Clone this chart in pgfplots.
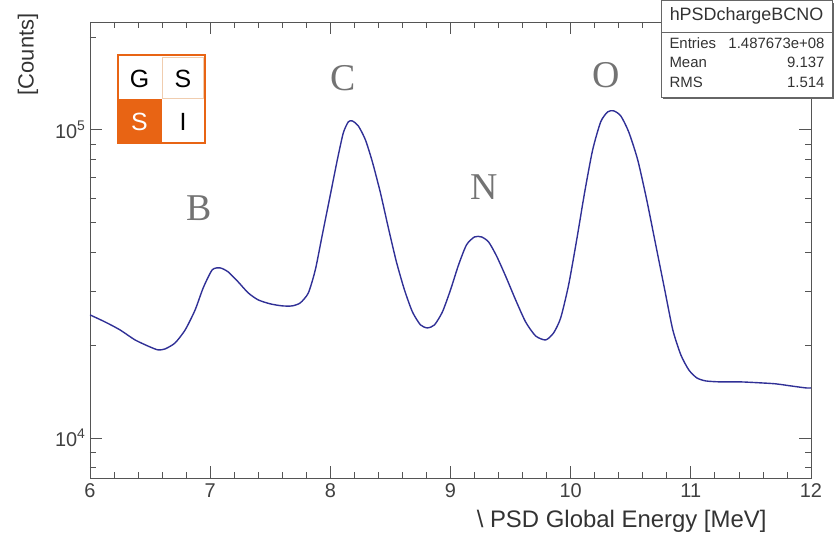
\documentclass[border=0pt]{standalone}
\usepackage{fontspec}
\setmainfont{Liberation Sans}
\newfontfamily\serifB{Liberation Serif}
\usepackage{pgfplots}
\pgfplotsset{compat=1.18}
\definecolor{curve}{RGB}{48,48,150}
\definecolor{gsio}{RGB}{232,100,20}
\definecolor{gsil}{RGB}{240,205,175}
\definecolor{lblgray}{RGB}{115,115,115}
\definecolor{axgray}{RGB}{85,85,85}
\begin{document}
\begin{tikzpicture}
\useasboundingbox (-90bp,-61bp) rectangle (746bp,478bp);
\begin{axis}[
  scale only axis, width=721bp, height=456bp,
  at={(0,0)}, anchor=south west,
  xmin=6, xmax=12, ymode=log, ymin=7413, ymax=224000,
  xtick={6,7,8,9,10,11,12}, xticklabels={6,7,8,9,10,11,12},
  minor x tick num=4,
  ytick={10000,100000}, yticklabels={10\textsuperscript{4},10\textsuperscript{5}},
  minor ytick={8000,9000,20000,30000,40000,50000,60000,70000,80000,90000,200000},
  tick pos=both, xticklabel pos=lower, yticklabel pos=left,
  tick align=inside, major tick length=12bp, minor tick length=6bp,
  axis line style={axgray, line width=0.9pt},
  every tick/.style={axgray, line width=0.8pt},
  tick label style={font=\fontsize{20}{20}\selectfont, text=black!75},
  xticklabel style={yshift=-2bp},
  yticklabel style={xshift=-1bp},
  xlabel={\textbackslash\ PSD Global Energy [MeV]},
  xlabel style={at={(axis description cs:1,0)}, anchor=north east, xshift=-41bp, yshift=-29bp, font=\fontsize{24}{24}\selectfont, text=black!80},
]
\addplot[curve, line width=1.4pt, smooth, tension=0.4] coordinates {
(6.000,25080) (6.125,23800) (6.250,22420) (6.375,20800) (6.500,19740) (6.567,19310)
(6.625,19450) (6.708,20340) (6.792,22420) (6.875,26040) (6.942,30690) (7.017,35120)
(7.083,35640) (7.150,34590) (7.233,32100) (7.317,29560) (7.400,28060) (7.500,27240)
(7.600,26830) (7.683,26830) (7.750,27440) (7.817,29560) (7.875,35120) (7.933,45610)
(8.000,61520) (8.058,79910) (8.108,97790) (8.150,106200) (8.183,106900) (8.233,103000)
(8.292,92800) (8.350,78720) (8.417,62450) (8.483,48060) (8.550,37280) (8.617,30230)
(8.683,25660) (8.750,23280) (8.808,22760) (8.867,23280) (8.933,25660) (9.000,30230)
(9.067,36450) (9.133,42320) (9.200,44930) (9.258,44930) (9.317,43280) (9.383,38990)
(9.458,33570) (9.542,28060) (9.625,23800) (9.708,21440) (9.792,20800) (9.858,21920)
(9.917,24530) (9.983,31390) (10.050,43930) (10.117,62910) (10.183,86130) (10.250,106200)
(10.308,114400) (10.358,115300) (10.417,111000) (10.483,98500) (10.558,79910) (10.633,59250)
(10.708,42320) (10.783,30230) (10.850,22420) (10.917,18600) (10.983,16630) (11.050,15660)
(11.125,15310) (11.250,15200) (11.417,15200) (11.583,15090) (11.708,14980) (11.833,14750)
(11.958,14530) (12.000,14530)
};
\node[font=\serifB\fontsize{38}{38}\selectfont, text=lblgray] at (axis cs:6.908,55900) {B};
\node[font=\serifB\fontsize{38}{38}\selectfont, text=lblgray] at (axis cs:8.108,147500) {C};
\node[font=\serifB\fontsize{38}{38}\selectfont, text=lblgray] at (axis cs:9.283,65300) {N};
\node[font=\serifB\fontsize{38}{38}\selectfont, text=lblgray] at (axis cs:10.292,150900) {O};
\end{axis}
% y label
\node[rotate=90, anchor=east, font=\fontsize{22}{22}\selectfont, text=black!80] at (-62bp,468bp) {[Counts]};
% stats box
\fill[black!60] (573bp,379bp) rectangle (744bp,475bp);
\filldraw[fill=white, draw=black!60, line width=0.9pt] (571bp,381bp) rectangle (742bp,477.5bp);
\draw[black!60, line width=0.9pt] (571bp,446bp) -- (742bp,446bp);
\node[font=\fontsize{18}{18}\selectfont, text=black!80] at (656.5bp,462bp) {hPSDchargeBCNO};
\node[anchor=west, font=\fontsize{15}{15}\selectfont, text=black!80] at (576bp,435bp) {Entries};
\node[anchor=east, font=\fontsize{15}{15}\selectfont, text=black!80] at (738bp,435bp) {1.487673e+08};
\node[anchor=west, font=\fontsize{15}{15}\selectfont, text=black!80] at (576bp,416bp) {Mean};
\node[anchor=east, font=\fontsize{15}{15}\selectfont, text=black!80] at (738bp,416bp) {9.137};
\node[anchor=west, font=\fontsize{15}{15}\selectfont, text=black!80] at (576bp,396bp) {RMS};
\node[anchor=east, font=\fontsize{15}{15}\selectfont, text=black!80] at (738bp,396bp) {1.514};
% GSI logo
\fill[white] (28bp,335bp) rectangle (115bp,423bp);
\fill[gsio] (28bp,335bp) rectangle (71.5bp,379bp);
\draw[gsil, line width=0.8pt] (72.5bp,380bp) rectangle (113bp,421bp);
\draw[gsio, line width=1.8pt] (28bp,335bp) rectangle (115bp,423bp);
\node[font=\fontsize{25}{25}\selectfont] at (49.5bp,399bp) {G};
\node[font=\fontsize{25}{25}\selectfont] at (93bp,399bp) {S};
\node[font=\fontsize{25}{25}\selectfont, text=white] at (49.5bp,356bp) {S};
\node[font=\fontsize{25}{25}\selectfont] at (93bp,356bp) {I};
\end{tikzpicture}
\end{document}
